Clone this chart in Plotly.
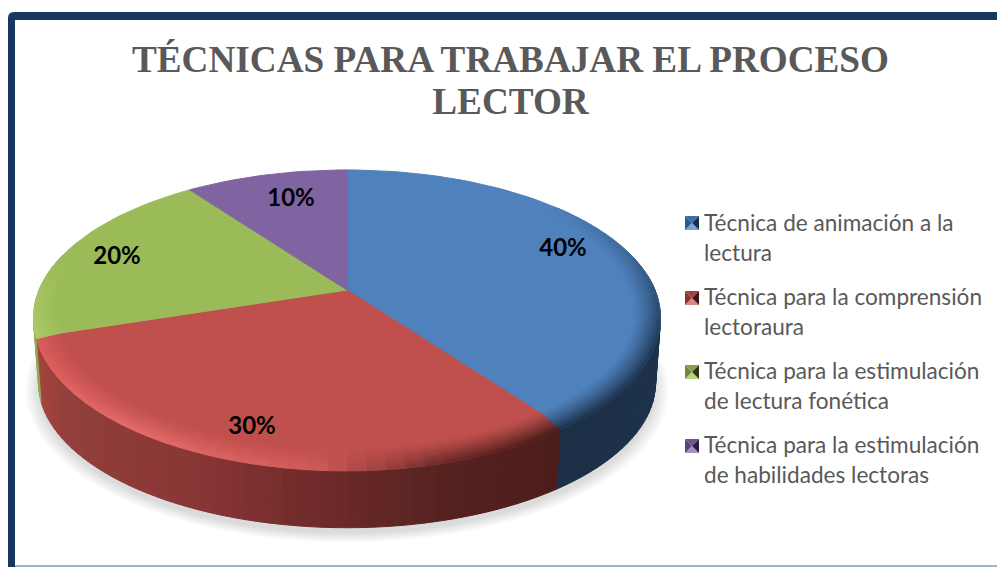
import math
import plotly.graph_objects as go

# ---- data ----
categories = ["Técnica de animación a la<br>lectura",
              "Técnica para la comprensión<br>lectoraura",
              "Técnica para la estimulación<br>de lectura fonética",
              "Técnica para la estimulación<br>de habilidades lectoras"]
values = [40, 30, 20, 10]
title_lines = ["TÉCNICAS PARA TRABAJAR EL PROCESO", "LECTOR"]

# ---- style ----
face_colors = ["#4f81bd", "#c0504d", "#9bbb59", "#8064a2"]
swatch_colors = [("#3f6ea8", "#2d5a8e", "#16304f", "#7ba3d2"),
                 ("#a8403d", "#8a3330", "#3f1614", "#d98785"),
                 ("#86a34a", "#6f8a3a", "#2c3814", "#b9d27f"),
                 ("#6d5590", "#584477", "#2a2040", "#a68fc4")]
label_pos = [(563, 249.5), (252, 427.5), (117, 258), (291, 200)]
swatch_y = [223, 298, 372, 446]
W, H = 997, 567
CX, CY, R, A, K = 347, 290, 308, 142.4, 0.186
BOTTOM_SCALE, DEPTH = 0.985, 66
RIM_DROP = 6
STEP = 3
WALL_STEP = 2


def project(theta, r=1.0, drop=0.0):
    u = r * math.sin(math.radians(theta))
    v = r * math.cos(math.radians(theta))
    d = 1 + K * v
    return CX + R * u / d, CY - A * v / d + drop


def rim(theta, r):
    lift = RIM_DROP * (r - 0.92) / 0.08 * max(0.0, -math.cos(math.radians(theta)))
    return project(theta, r, lift)


def hex2rgb(c):
    return tuple(int(c[i:i + 2], 16) for i in (1, 3, 5))


def mix(c1, c2, t):
    a, b = hex2rgb(c1), hex2rgb(c2)
    return "#%02x%02x%02x" % tuple(round(a[i] + (b[i] - a[i]) * t) for i in range(3))


def ramp(stops, x):
    if x <= stops[0][0]:
        return stops[0][1]
    for (x0, c0), (x1, c1) in zip(stops, stops[1:]):
        if x <= x1:
            return mix(c0, c1, (x - x0) / (x1 - x0))
    return stops[-1][1]


side_ramp = [(0, "#1f3550"), (143.9, "#1c3148"), (144, "#4c1e1b"), (165, "#552220"), (185, "#702b2a"),
             (205, "#893735"), (235, "#93403c"), (251.9, "#a8433f"), (252, "#8fab50"), (280, "#8fab50")]
edge_ramp = [(50, "#4f81bd"), (80, "#3a628f"), (110, "#233e5e"), (143.9, "#1f3550"),
             (144, "#4c1e1b"), (165, "#6e2a28"), (185, "#cf5a58"), (215, "#e46a68"), (251.9, "#d85b59"),
             (252, "#adcb66"), (285, "#9bbb59")]


def poly(xs, ys, color):
    return go.Scatter(x=xs, y=ys, mode="lines", fill="toself", fillcolor=color,
                      line=dict(color=color, width=1), hoverinfo="skip", showlegend=False)


fig = go.Figure()
total = sum(values)
bounds = [0]
for v in values:
    bounds.append(bounds[-1] + 360 * v / total)

# soft shadow
for s in [1.04, 1.032, 1.024, 1.016, 1.008, 1.0]:
    pts = [project(t, BOTTOM_SCALE * s, DEPTH + 6) for t in range(0, 361, 4)]
    fig.add_trace(go.Scatter(x=[p[0] for p in pts], y=[p[1] for p in pts], mode="lines", fill="toself",
                             fillcolor="rgba(0,0,0,0.025)", line=dict(width=0),
                             hoverinfo="skip", showlegend=False))

# wall of the disc
for t in range(84, 258, WALL_STEP):
    t2 = t + WALL_STEP
    x, y = [], []
    for a in (t, t2):
        p = rim(a, 1.0)
        x.append(p[0]); y.append(p[1])
    for a in (t2, t):
        p = project(a, BOTTOM_SCALE, DEPTH)
        x.append(p[0]); y.append(p[1])
    x.append(x[0]); y.append(y[0])
    fig.add_trace(poly(x, y, ramp(side_ramp, t + WALL_STEP / 2)))

# top faces, one per value
for i, col in enumerate(face_colors):
    a0, a1 = bounds[i], bounds[i + 1]
    n = max(2, int((a1 - a0) / 2))
    pts = [(CX, CY)] + [project(a0 + (a1 - a0) * j / n) for j in range(n + 1)] + [(CX, CY)]
    fig.add_trace(poly([p[0] for p in pts], [p[1] for p in pts], col))

# rounded rim of the top face
rings = [0.92, 0.93, 0.94, 0.95, 0.96, 0.97, 0.98, 0.99, 1.0]
for i, col in enumerate(face_colors):
    a0, a1 = bounds[i], bounds[i + 1]
    a = max(a0, 50)
    stop = min(a1, 285)
    while a < stop - 1e-6:
        b = min(a + STEP, stop)
        edge = ramp(edge_ramp, (a + b) / 2)
        for k in range(len(rings) - 1):
            p = [rim(a, rings[k]), rim(b, rings[k]), rim(b, rings[k + 1]), rim(a, rings[k + 1])]
            p.append(p[0])
            c = mix(col, edge, ((k + 1) / (len(rings) - 1)) ** 1.3)
            fig.add_trace(poly([q[0] for q in p], [q[1] for q in p], c))
        a = b

# percentage labels
fig.add_trace(go.Scatter(x=[p[0] for p in label_pos], y=[p[1] for p in label_pos], mode="text",
                         text=[f"{v}%" for v in values],
                         textfont=dict(family="Lato", size=24, color="#000000", weight="bold"),
                         hoverinfo="skip", showlegend=False))

# legend keys
for yc, (top, left, right, bottom) in zip(swatch_y, swatch_colors):
    x0, x1, y0, y1 = 685, 699, yc - 7, yc + 7
    xm, ym = (x0 + x1) / 2, yc
    for c, xs, ys in [(top, [x0, x1, xm, x0], [y0, y0, ym, y0]),
                      (bottom, [x0, x1, xm, x0], [y1, y1, ym, y1]),
                      (left, [x0, xm, x0, x0], [y0, ym, y1, y0]),
                      (right, [x1, xm, x1, x1], [y0, ym, y1, y0])]:
        fig.add_trace(go.Scatter(x=xs, y=ys, mode="lines", fill="toself", fillcolor=c,
                                 line=dict(width=0), hoverinfo="skip", showlegend=False))

# legend entries
for i, name in enumerate(categories):
    fig.add_trace(go.Scatter(x=[None], y=[None], mode="markers", legendgroup=str(i),
                             name='<span style="font-size:22.6px">' + name.replace("<br>", '</span><br><span style="font-size:22.6px">') + "</span>",
                             marker=dict(color="rgba(0,0,0,0)", size=1)))

frame = [
    dict(type="path", path="M8 567 L8 18 Q8 12 14 12 L997 12 L997 20 L15 20 L15 567 Z",
         fillcolor="#17375e", line=dict(width=0), layer="above"),
    dict(type="rect", x0=15, x1=997, y0=565, y1=567, fillcolor="#9fb3cc", line=dict(width=0), layer="above"),
]

fig.update_layout(
    width=W, height=H, autosize=False,
    margin=dict(l=0, r=0, t=0, b=0),
    paper_bgcolor="white", plot_bgcolor="white",
    xaxis=dict(range=[0, W], visible=False, fixedrange=True),
    yaxis=dict(range=[H, 0], visible=False, fixedrange=True),
    shapes=frame,
    title=dict(text='<span style="font-size:37.2px">' + title_lines[0] + '</span><br><span style="font-size:37.2px">' + title_lines[1] + "</span>",
               x=510.5 / W, xanchor="center", xref="paper", y=1 - 72 / H, yref="container", yanchor="top",
               font=dict(family="Liberation Serif", size=32.5, color="#595959", weight="bold")),
    legend=dict(x=664 / W, xanchor="left", y=1 - 201 / H, yanchor="top", bgcolor="rgba(0,0,0,0)",
                font=dict(family="Lato", size=23, color="#595959"), traceorder="grouped",
                tracegroupgap=11, valign="top"),
)
fig.write_html("out.html", config=dict(displayModeBar=False),
               post_script="document.body.style.margin='0';document.body.style.overflow='hidden';")
